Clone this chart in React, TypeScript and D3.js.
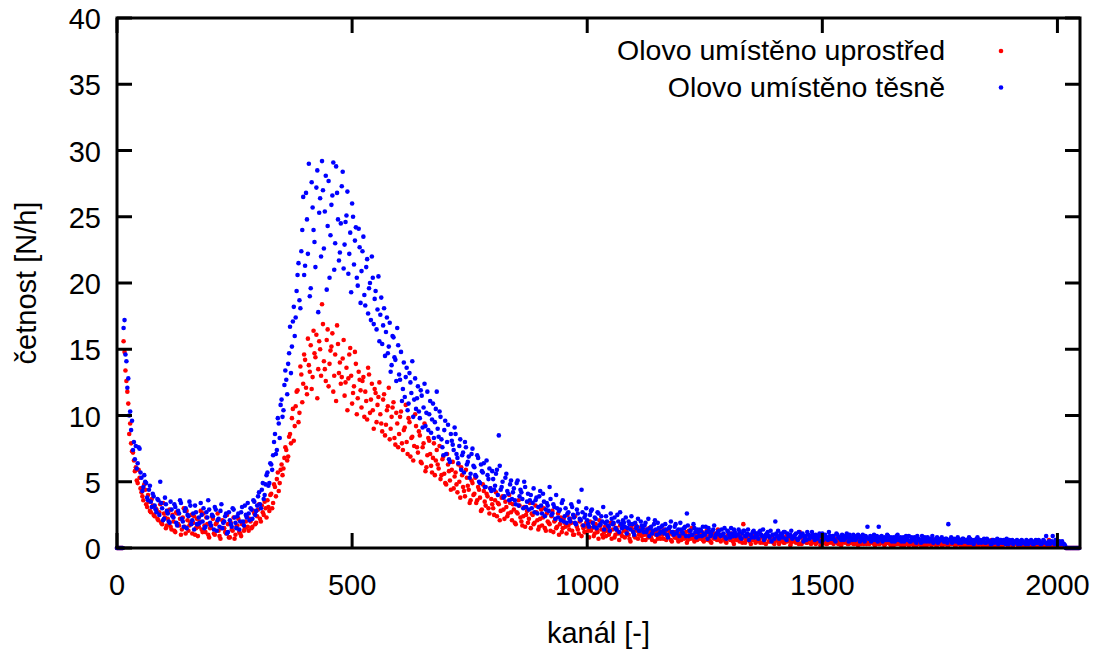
import React from "react";
import * as d3 from "d3";

// channel step between consecutive values (channel = index * STEP + offset)
const STEP = 4;
const OFFSET_A = 0;
const OFFSET_B = 2;

const seriesNames = ["Olovo umístěno uprostřed", "Olovo umístěno těsně"];
const seriesColors = ["#ff0000", "#0000ff"];

const xTicks = [0, 500, 1000, 1500, 2000];
const yTicks = [0, 5, 10, 15, 20, 25, 30, 35, 40];

// "uprostřed" – channels 0, 4, 8, ...
const redValuesA = [
  0, 0, 0, 0, 14.8, 12.6, 10.9, 9.4, 7.3, 6.6,
  6.1, 4.9, 5.3, 4.2, 3.6, 4.4, 3.1, 3.5, 2.7, 3.2,
  2.4, 2.9, 2.1, 3.3, 1.8, 2.6, 1.5, 2.2, 2.9, 1.4,
  2.0, 1.2, 2.6, 1.7, 1.0, 2.3, 1.6, 2.8, 1.3, 1.9,
  1.1, 2.4, 1.5, 0.9, 2.0, 1.4, 2.6, 1.2, 1.8, 0.8,
  1.6, 2.2, 1.0, 1.9, 1.3, 0.7, 2.1, 1.5, 1.1, 1.8,
  0.8, 1.4, 2.3, 1.0, 1.7, 1.2, 0.9, 1.9, 1.5, 2.4,
  1.3, 2.0, 1.6, 2.6, 1.9, 2.9, 2.2, 3.2, 2.5, 3.0,
  3.6, 2.8, 4.1, 3.4, 4.6, 5.2, 4.3, 5.9, 5.5, 6.8,
  7.4, 6.9, 8.6, 9.8, 8.1, 10.7, 11.9, 10.2, 13.1, 12.4,
  14.2, 11.6, 13.8, 15.3, 12.9, 14.7, 16.1, 13.5, 15.0, 18.4,
  14.1, 12.6, 16.5, 13.9, 15.2, 11.8, 14.6, 16.8, 13.2, 12.4,
  14.3, 11.5, 13.6, 12.8, 15.1, 10.9, 12.2, 13.9, 11.3, 12.7,
  10.6, 12.9, 11.8, 9.7, 13.1, 11.2, 10.4, 12.0, 9.5, 11.4,
  10.1, 8.8, 11.6, 9.3, 10.7, 8.2, 9.9, 11.0, 7.8, 9.4,
  8.6, 10.3, 7.4, 9.1, 8.0, 9.8, 6.9, 8.4, 7.7, 9.2,
  7.2, 8.5, 6.4, 7.9, 5.8, 7.0, 8.1, 6.2, 6.8, 5.5,
  7.4, 6.0, 5.2, 6.7, 5.6, 4.8, 6.3, 5.1, 5.9, 4.5,
  5.7, 4.2, 5.0, 6.1, 4.6, 3.9, 5.3, 4.4, 3.6, 4.9,
  4.1, 3.4, 4.6, 3.8, 2.9, 4.3, 3.2, 3.9, 2.6, 3.7,
  3.0, 3.6, 2.4, 3.3, 2.8, 3.9, 2.2, 3.1, 2.6, 3.4,
  2.1, 2.9, 1.8, 2.6, 3.2, 2.0, 2.4, 1.6, 2.8, 2.2,
  1.5, 2.5, 1.9, 2.7, 1.4, 2.2, 1.7, 3.0, 1.3, 2.0,
  1.8, 2.4, 1.2, 2.1, 1.6, 1.0, 2.3, 1.5, 1.9, 1.1,
  1.7, 2.2, 1.3, 1.0, 1.8, 1.4, 2.0, 0.9, 1.5, 1.2,
  1.6, 0.8, 1.3, 1.9, 1.1, 1.4, 0.7, 1.7, 1.0, 1.2,
  0.9, 1.5, 1.2, 0.7, 1.8, 1.0, 1.3, 0.6, 1.1, 1.6,
  0.8, 1.2, 1.0, 0.5, 1.4, 0.9, 1.7, 0.7, 1.1, 0.9,
  1.3, 0.6, 1.0, 1.5, 0.8, 1.1, 0.5, 1.2, 0.9, 0.7,
  1.0, 1.4, 0.6, 0.9, 1.1, 0.5, 1.2, 0.8, 0.7, 1.0,
  0.6, 1.1, 0.8, 0.4, 1.3, 0.7, 0.9, 0.5, 1.0, 0.8,
  0.7, 1.2, 0.5, 0.9, 0.6, 1.0, 0.4, 0.8, 1.1, 0.6,
  0.8, 0.5, 0.9, 0.7, 0.4, 1.0, 0.6, 0.8, 0.3, 0.7,
  0.9, 0.5, 0.6, 1.8, 0.4, 0.7, 0.8, 0.3, 0.6, 0.9,
  0.5, 0.7, 0.4, 0.8, 0.6, 0.3, 0.9, 0.5, 0.7, 0.4,
  0.6, 0.8, 0.3, 0.5, 0.7, 0.4, 0.9, 0.6, 0.2, 0.5,
  0.7, 0.4, 0.6, 1.2, 0.3, 0.5, 0.8, 0.4, 0.6, 0.3,
  0.5, 0.7, 0.4, 0.6, 0.2, 0.5, 0.8, 0.3, 0.6, 0.4,
  0.5, 0.3, 0.7, 0.4, 0.6, 0.2, 0.5, 0.4, 0.7, 0.3,
  0.4, 0.6, 0.3, 0.5, 0.2, 0.6, 0.4, 0.3, 0.5, 0.4,
  0.3, 0.5, 0.6, 0.2, 0.4, 0.3, 0.7, 0.4, 0.2, 0.5,
  0.4, 0.3, 0.5, 0.2, 0.4, 0.6, 0.3, 0.2, 0.5, 0.3,
  0.4, 0.2, 0.3, 0.5, 0.3, 0.2, 0.4, 0.6, 0.3, 0.2,
  0.4, 0.3, 0.5, 0.2, 0.3, 0.4, 0.2, 0.5, 0.3, 0.2,
  0.4, 0.3, 0.2, 0.4, 0.3, 0.5, 0.2, 0.3, 0.4, 0.2,
  0.3, 0.4, 0.2, 0.75, 0.5, 0.2, 0.3, 0.4, 0.2, 0.3,
  0.2, 0.4, 0.3, 0.2, 0.3, 0.6, 0.2, 0.3, 0.4, 0.2,
  0.3, 0.2, 0.4, 0.3, 0.2, 0.3, 0.2, 0.4, 0.3, 0.2,
  0.3, 0.4, 0.2, 0.3, 0.2, 0.5, 0.2, 0.3, 0.2, 0.3,
  0.2, 0.3, 0.4, 0.2, 0.3, 0.2, 0.3, 0.2, 0.4, 0.2,
  0.3, 0.2, 0.3, 0.2, 0.1, 0, 0, 0, 0, 0,
  0, 0,
];

// "uprostřed" – channels 2, 6, 10, ...
const redValuesB = [
  0, 0, 0, 15.6, 13.4, 11.8, 8.6, 7.9, 7.2, 5.8,
  5.1, 5.9, 4.5, 3.9, 4.8, 3.3, 4.0, 2.8, 3.7, 2.5,
  3.0, 2.2, 2.7, 1.9, 3.4, 2.3, 1.7, 2.8, 1.6, 2.5,
  1.3, 2.7, 1.8, 2.2, 1.4, 3.0, 1.1, 2.1, 1.7, 2.5,
  1.9, 1.0, 2.2, 1.6, 2.8, 1.2, 1.7, 2.3, 1.0, 1.5,
  2.4, 1.1, 1.8, 2.6, 0.9, 1.5, 2.0, 1.2, 2.5, 0.8,
  1.9, 1.3, 0.7, 1.6, 2.2, 1.1, 1.8, 1.3, 2.0, 1.6,
  2.2, 1.5, 2.8, 1.8, 2.4, 3.3, 2.0, 2.7, 3.5, 2.3,
  3.1, 4.0, 3.0, 4.8, 3.9, 5.7, 4.9, 6.3, 6.0, 7.6,
  6.6, 8.4, 7.9, 10.5, 9.2, 11.8, 9.5, 13.7, 11.0, 14.6,
  12.1, 15.8, 13.3, 12.0, 16.4, 14.4, 11.3, 15.6, 13.0, 16.9,
  13.5, 15.7, 12.2, 14.9, 16.2, 13.0, 11.1, 15.4, 14.0, 12.9,
  15.7, 12.5, 10.4, 14.6, 13.0, 11.7, 14.8, 10.1, 13.3, 11.9,
  12.6, 9.9, 11.1, 13.6, 10.2, 12.4, 9.0, 11.7, 10.8, 12.5,
  9.4, 11.2, 8.5, 10.4, 12.1, 9.0, 10.6, 8.3, 10.2, 7.6,
  9.9, 7.9, 8.9, 10.8, 7.1, 9.5, 8.3, 6.6, 10.1, 7.6,
  8.8, 6.5, 7.6, 9.4, 6.1, 8.3, 7.1, 5.7, 7.9, 6.6,
  6.3, 7.7, 5.5, 6.9, 4.9, 7.1, 5.8, 4.4, 6.5, 5.4,
  4.8, 6.3, 3.8, 5.5, 4.3, 5.9, 4.7, 3.4, 5.1, 4.0,
  5.3, 3.6, 4.4, 2.8, 4.8, 3.5, 4.1, 3.0, 4.5, 3.3,
  2.5, 4.2, 3.4, 2.1, 3.8, 2.9, 3.5, 2.4, 4.0, 2.7,
  3.3, 1.9, 2.7, 3.6, 2.3, 1.7, 3.1, 2.5, 1.9, 3.4,
  2.6, 1.8, 3.2, 2.1, 1.6, 2.9, 2.3, 1.5, 2.6, 1.9,
  1.3, 2.8, 2.0, 1.5, 2.6, 1.8, 1.2, 2.2, 1.6, 2.5,
  1.4, 1.9, 1.0, 2.4, 1.6, 1.1, 2.1, 1.7, 1.2, 1.9,
  1.3, 2.0, 1.5, 0.9, 1.8, 1.2, 2.1, 1.4, 0.8, 1.6,
  1.3, 1.0, 1.9, 1.4, 0.8, 1.5, 1.1, 1.7, 0.9, 1.3,
  1.5, 1.0, 0.7, 1.6, 1.2, 0.8, 1.3, 1.0, 1.5, 0.6,
  1.0, 1.4, 0.8, 1.2, 0.6, 1.3, 1.0, 0.7, 1.4, 1.1,
  0.7, 1.2, 0.9, 1.3, 0.6, 1.0, 0.8, 1.2, 0.5, 1.1,
  0.9, 0.7, 1.2, 0.6, 1.0, 1.5, 0.7, 1.1, 0.6, 0.9,
  1.0, 0.6, 0.8, 1.3, 0.7, 0.5, 1.1, 0.7, 0.9, 1.4,
  0.6, 1.0, 0.7, 0.5, 0.9, 0.8, 1.1, 0.5, 0.9, 0.6,
  0.7, 1.0, 0.4, 0.8, 0.6, 1.0, 0.5, 0.9, 0.7, 0.4,
  0.8, 0.6, 1.0, 0.4, 0.7, 0.9, 0.5, 0.6, 0.8, 0.3,
  0.7, 0.5, 0.9, 0.6, 0.4, 0.8, 0.5, 0.7, 0.4, 0.8,
  0.5, 0.6, 0.3, 0.8, 0.5, 0.7, 0.4, 0.6, 0.9, 0.4,
  0.6, 0.3, 0.7, 0.5, 0.8, 0.4, 0.5, 0.3, 0.7, 0.5,
  0.4, 0.6, 0.5, 0.3, 0.7, 0.4, 0.6, 0.5, 0.3, 0.6,
  0.5, 0.3, 0.6, 0.4, 0.7, 0.3, 0.5, 0.6, 0.3, 0.4,
  0.6, 0.4, 0.3, 0.5, 0.7, 0.3, 0.4, 0.6, 0.3, 0.4,
  0.5, 0.2, 0.4, 0.6, 0.3, 0.4, 0.5, 0.3, 0.2, 0.4,
  0.3, 0.5, 0.4, 0.2, 0.5, 0.4, 0.3, 0.2, 0.5, 0.4,
  0.2, 0.5, 0.3, 0.4, 0.6, 0.2, 0.4, 0.3, 0.2, 0.5,
  0.3, 0.2, 0.4, 0.3, 0.5, 0.2, 0.4, 0.3, 0.2, 0.4,
  0.2, 0.3, 0.4, 0.2, 0.3, 0.5, 0.2, 0.3, 0.6, 0.3,
  0.4, 0.2, 0.3, 0.5, 0.2, 0.3, 0.4, 0.2, 0.3, 0.5,
  0.2, 0.4, 0.3, 0.2, 0.4, 0.3, 0.2, 0.3, 0.4, 0.2,
  0.2, 0.3, 0.4, 0.2, 0.3, 0.2, 0.4, 0.3, 0.2, 0.3,
  0.4, 0.2, 0.3, 0.2, 0.3, 0.6, 0.2, 0.3, 0.2, 0.4,
  0.2, 0.3, 0.2, 0.2, 0, 0, 0, 0, 0, 0,
  0, 0,
];

// "těsně" – channels 0, 4, 8, ...
const blueValuesA = [
  0, 0, 0, 0, 17.2, 14.1, 12.8, 10.3, 9.6, 8.0,
  7.7, 6.4, 7.5, 5.3, 4.6, 5.0, 3.8, 4.4, 3.5, 4.1,
  3.2, 2.7, 3.6, 5.0, 3.0, 2.2, 3.3, 2.6, 1.9, 2.9,
  2.3, 3.1, 1.7, 2.6, 3.4, 2.0, 2.8, 1.5, 2.4, 3.2,
  2.1, 1.4, 2.7, 1.8, 1.9, 2.5, 3.0, 1.6, 2.3, 2.9,
  1.7, 2.4, 3.1, 1.3, 2.2, 2.8, 1.5, 2.0, 2.6, 1.2,
  2.1, 1.6, 2.9, 1.9, 2.4, 1.4, 2.7, 2.0, 3.2, 2.3,
  2.6, 3.0, 2.2, 3.5, 2.8, 3.9, 3.3, 4.4, 3.7, 4.8,
  5.7, 4.9, 6.3, 7.0, 8.6, 7.4, 9.4, 10.8, 9.9, 12.3,
  12.7, 13.9, 16.7, 15.2, 18.2, 17.4, 20.6, 18.7, 22.4, 26.5,
  21.3, 24.8, 29.0, 19.6, 25.7, 23.1, 27.2, 17.8, 26.4, 29.2,
  22.6, 28.1, 24.3, 20.4, 25.9, 29.1, 23.0, 26.8, 21.7, 24.5,
  28.4, 22.9, 25.1, 20.7, 23.8, 26.0, 21.4, 24.2, 19.8, 22.7,
  20.9, 23.5, 18.3, 21.8, 19.6, 17.2, 20.4, 18.8, 16.5, 20.5,
  17.6, 15.4, 18.1, 16.3, 14.7, 17.0, 13.8, 15.9, 14.2, 16.6,
  13.1, 14.8, 12.0, 11.4, 13.6, 10.9, 12.5, 14.1, 11.2, 10.5,
  12.2, 9.8, 11.5, 10.6, 9.2, 11.8, 10.1, 8.7, 10.9, 9.5,
  11.8, 8.4, 9.9, 7.6, 8.9, 7.1, 9.3, 6.5, 8.1, 7.4,
  8.6, 6.8, 7.7, 5.9, 7.2, 8.0, 6.3, 6.9, 5.6, 7.5,
  6.1, 5.4, 6.8, 4.9, 5.8, 6.4, 4.6, 5.5, 6.0, 4.3,
  5.2, 4.7, 5.9, 8.5, 4.4, 5.0, 3.9, 5.6, 4.1, 4.8,
  3.7, 4.5, 3.3, 5.1, 3.9, 4.2, 3.0, 4.6, 3.5, 2.9,
  4.0, 3.4, 2.7, 3.8, 3.1, 4.3, 2.6, 3.5, 2.9, 3.2,
  4.6, 2.5, 3.3, 2.2, 3.0, 2.8, 2.1, 3.6, 2.4, 1.9,
  2.7, 2.0, 3.1, 2.3, 1.8, 2.6, 2.2, 4.4, 1.7, 2.5,
  2.1, 1.6, 2.8, 1.9, 2.3, 1.5, 2.6, 1.8, 2.0, 1.4,
  2.4, 1.7, 1.3, 2.2, 1.9, 1.5, 2.5, 1.2, 1.8, 2.1,
  1.6, 1.1, 2.0, 1.4, 1.8, 1.0, 1.5, 2.2, 1.3, 1.7,
  1.2, 1.9, 1.4, 0.9, 1.6, 1.3, 2.1, 1.0, 1.5, 1.2,
  1.7, 1.1, 1.4, 0.8, 1.6, 1.2, 1.0, 1.8, 1.3, 0.9,
  1.4, 1.1, 1.6, 2.6, 0.9, 1.3, 1.0, 1.5, 0.8, 1.2,
  1.4, 0.9, 1.1, 1.6, 0.7, 1.2, 1.0, 1.4, 0.8, 1.1,
  1.3, 0.9, 1.0, 1.5, 0.7, 1.2, 0.8, 1.1, 1.4, 0.9,
  1.0, 1.2, 0.7, 1.3, 0.9, 1.1, 0.6, 1.0, 1.2, 0.8,
  1.1, 0.7, 1.3, 0.9, 0.6, 1.0, 1.2, 0.8, 0.5, 1.0,
  2.0, 0.9, 0.7, 1.1, 0.8, 1.2, 0.6, 0.9, 1.0, 0.7,
  0.9, 1.1, 0.6, 0.8, 1.0, 0.5, 0.9, 1.2, 0.7, 0.8,
  1.0, 0.6, 0.8, 0.9, 0.5, 1.1, 0.7, 0.8, 0.6, 0.9,
  0.7, 0.9, 0.5, 1.0, 0.8, 0.6, 0.9, 0.7, 1.1, 0.5,
  0.8, 0.6, 0.9, 0.7, 1.0, 0.5, 0.8, 0.6, 0.9, 1.6,
  0.7, 0.5, 0.8, 0.6, 0.9, 1.6, 0.7, 0.5, 0.8, 0.6,
  0.9, 0.7, 0.5, 0.8, 0.6, 1.0, 0.7, 0.5, 0.8, 0.6,
  0.7, 0.9, 0.5, 0.6, 0.8, 0.4, 0.7, 0.6, 0.9, 0.5,
  0.6, 0.8, 0.5, 0.7, 0.4, 0.6, 0.8, 0.5, 0.7, 0.6,
  0.5, 0.7, 1.8, 0.6, 0.4, 0.7, 0.5, 0.8, 0.6, 0.4,
  0.7, 0.5, 0.6, 0.8, 0.4, 0.6, 0.5, 0.7, 0.4, 0.6,
  0.5, 0.7, 0.4, 0.6, 0.5, 0.3, 0.6, 0.5, 0.7, 0.4,
  0.6, 0.4, 0.5, 0.7, 0.3, 0.5, 0.6, 0.4, 0.5, 0.3,
  0.5, 0.6, 0.4, 0.3, 0.5, 0.4, 0.6, 0.3, 0.5, 0.4,
  0.6, 0.3, 0.4, 0.5, 0.9, 0.4, 0.3, 0.5, 0.4, 0.6,
  0.3, 0.5, 0.4, 0.3, 0.2, 0, 0, 0, 0, 0,
  0, 0,
];

// "těsně" – channels 2, 6, 10, ...
const blueValuesB = [
  0, 0, 0, 16.6, 14.6, 12.1, 10.0, 8.9, 7.4, 6.7,
  6.0, 7.6, 5.7, 4.3, 5.5, 4.9, 3.6, 4.7, 3.1, 3.9,
  2.9, 3.7, 2.5, 3.4, 2.1, 3.8, 2.8, 2.0, 3.5, 2.4,
  3.3, 1.9, 2.8, 3.6, 2.2, 1.6, 3.0, 2.5, 3.5, 1.8,
  2.6, 3.2, 1.8, 2.3, 3.4, 2.0, 1.5, 2.7, 3.6, 1.9,
  2.5, 1.4, 2.9, 2.1, 1.6, 3.3, 1.9, 2.4, 1.1, 2.7,
  1.8, 3.0, 2.3, 1.5, 2.6, 2.0, 3.1, 1.7, 2.5, 3.4,
  2.1, 2.9, 3.6, 2.5, 3.2, 4.2, 3.0, 4.9, 4.0, 5.5,
  4.7, 6.4, 5.9, 8.0, 7.1, 9.8, 8.3, 11.2, 10.4, 13.4,
  11.6, 14.7, 13.2, 17.1, 16.0, 19.4, 21.5, 18.1, 24.0, 20.6,
  26.8, 22.2, 19.0, 27.6, 24.0, 21.2, 28.5, 25.3, 22.0, 27.0,
  25.4, 19.5, 27.7, 23.6, 26.6, 21.0, 28.8, 24.8, 22.3, 27.3,
  21.1, 24.6, 26.9, 22.2, 19.3, 25.0, 23.2, 20.4, 24.1, 18.5,
  22.4, 19.1, 21.2, 17.7, 20.0, 22.0, 16.9, 19.4, 18.0, 15.6,
  18.9, 16.8, 14.5, 17.4, 15.2, 13.3, 16.0, 14.4, 12.6, 15.3,
  12.7, 11.1, 14.0, 12.9, 10.4, 13.2, 11.7, 9.9, 12.8, 11.3,
  10.3, 11.9, 9.1, 12.4, 10.2, 8.9, 11.1, 9.7, 8.3, 10.5,
  9.0, 10.3, 8.2, 7.0, 9.6, 8.0, 6.7, 8.6, 7.8, 9.1,
  7.1, 6.4, 8.2, 7.0, 5.7, 7.6, 6.5, 5.3, 7.1, 6.2,
  5.5, 7.0, 5.0, 6.3, 5.7, 4.6, 6.6, 5.2, 4.5, 5.8,
  4.4, 5.6, 4.0, 6.2, 4.6, 3.8, 5.3, 4.3, 3.6, 5.1,
  4.2, 3.6, 4.9, 3.2, 4.4, 3.7, 5.0, 3.1, 4.1, 3.6,
  3.0, 4.5, 3.6, 2.6, 3.9, 3.2, 4.1, 2.4, 3.4, 2.8,
  3.7, 2.6, 3.1, 4.0, 2.3, 2.9, 3.4, 2.0, 3.0, 2.6,
  2.2, 3.3, 2.5, 1.9, 2.9, 3.5, 2.1, 2.7, 2.3, 3.0,
  1.8, 2.5, 2.9, 1.6, 2.2, 2.7, 1.7, 2.4, 3.1, 1.9,
  2.0, 1.6, 2.6, 1.8, 2.3, 1.4, 2.0, 2.7, 1.5, 1.9,
  2.3, 1.5, 1.8, 2.4, 1.2, 1.9, 1.6, 1.3, 2.0, 1.5,
  1.7, 1.2, 2.2, 1.5, 1.1, 1.8, 1.4, 1.9, 1.1, 1.6,
  1.3, 1.8, 1.0, 1.5, 2.0, 1.2, 1.6, 1.1, 1.4, 1.9,
  1.2, 1.5, 0.9, 1.7, 1.3, 1.0, 1.8, 1.2, 1.4, 0.9,
  1.3, 1.6, 1.0, 1.2, 1.5, 0.9, 1.3, 1.7, 1.0, 1.2,
  1.0, 1.4, 1.1, 0.8, 1.3, 1.0, 1.5, 0.9, 1.2, 1.0,
  1.4, 0.8, 1.1, 1.3, 0.9, 1.4, 1.0, 0.8, 1.3, 1.1,
  0.9, 1.2, 1.0, 1.4, 0.8, 1.1, 0.9, 1.3, 1.0, 0.7,
  1.1, 1.3, 0.8, 1.0, 1.2, 0.7, 1.1, 0.9, 1.3, 0.8,
  1.0, 0.7, 1.2, 0.9, 1.1, 0.8, 0.6, 1.0, 0.9, 1.2,
  0.8, 1.0, 0.7, 1.1, 0.9, 0.6, 1.0, 0.8, 1.2, 0.7,
  0.9, 0.6, 1.1, 0.8, 0.7, 1.0, 0.6, 0.9, 0.8, 1.0,
  0.7, 1.0, 0.6, 0.8, 0.9, 0.7, 1.0, 0.5, 0.8, 0.7,
  0.9, 0.6, 1.0, 0.7, 0.5, 0.8, 0.9, 0.6, 0.7, 1.0,
  0.6, 0.8, 0.7, 0.5, 0.9, 0.6, 0.8, 0.7, 0.5, 0.9,
  0.6, 0.5, 0.8, 0.7, 0.5, 0.9, 0.6, 0.4, 0.7, 0.8,
  0.5, 0.7, 0.6, 0.9, 0.5, 0.7, 0.4, 0.6, 0.8, 0.5,
  0.7, 0.4, 0.6, 0.8, 0.5, 0.6, 0.7, 0.4, 0.5, 0.7,
  0.5, 0.6, 0.4, 0.7, 0.5, 0.3, 0.6, 0.8, 0.5, 0.4,
  0.6, 0.4, 0.7, 0.5, 0.3, 0.6, 0.4, 0.5, 0.3, 0.6,
  0.4, 0.6, 0.3, 0.5, 0.6, 0.4, 0.3, 0.5, 0.6, 0.4,
  0.3, 0.5, 0.4, 0.6, 0.3, 0.5, 0.4, 0.3, 0.6, 0.4,
  0.5, 0.3, 0.6, 0.4, 0.3, 0.5, 0.4, 0.9, 0.3, 0.5,
  0.4, 0.3, 0.5, 0.3, 0, 0, 0, 0, 0, 0,
  0, 0,
];

// drawing order: red first, blue on top
const layers = [
  { values: redValuesA, offset: OFFSET_A, series: 0 },
  { values: redValuesB, offset: OFFSET_B, series: 0 },
  { values: blueValuesA, offset: OFFSET_A, series: 1 },
  { values: blueValuesB, offset: OFFSET_B, series: 1 },
];

const W = 1102;
const H = 657;
const plot = { left: 117, right: 1080, top: 18, bottom: 548 };
const FONT = "Tahoma, 'Liberation Sans', Arial, sans-serif";

export default function App() {
  const x = d3.scaleLinear().domain([0, 2048]).range([plot.left, plot.right]);
  const y = d3.scaleLinear().domain([0, 40]).range([plot.bottom, plot.top]);
  const tickLen = 15;
  const r = 2.3;

  return (
    <div style={{ position: "absolute", left: 0, top: 0 }}>
      <svg width={W} height={H} style={{ display: "block", background: "#fff" }}>
        {/* points */}
        {layers.map((layer, li) => (
          <g key={li} fill={seriesColors[layer.series]}>
            {layer.values.map((v, i) => (
              <circle key={i} cx={x(i * STEP + layer.offset)} cy={y(v)} r={r} />
            ))}
          </g>
        ))}

        {/* ticks */}
        <g stroke="#000" strokeWidth={3}>
          {xTicks.map((t) => (
            <g key={"xt" + t}>
              <line x1={x(t)} x2={x(t)} y1={plot.bottom} y2={plot.bottom - tickLen} />
              <line x1={x(t)} x2={x(t)} y1={plot.top} y2={plot.top + tickLen} />
            </g>
          ))}
          {yTicks.map((t) => (
            <g key={"yt" + t}>
              <line x1={plot.left} x2={plot.left + tickLen} y1={y(t)} y2={y(t)} />
              <line x1={plot.right} x2={plot.right - tickLen} y1={y(t)} y2={y(t)} />
            </g>
          ))}
        </g>

        {/* border */}
        <rect
          x={plot.left}
          y={plot.top}
          width={plot.right - plot.left}
          height={plot.bottom - plot.top}
          fill="none"
          stroke="#000"
          strokeWidth={3}
        />

        {/* tick labels */}
        <g fontFamily={FONT} fontSize={29} fill="#000">
          {xTicks.map((t) => (
            <text key={"xl" + t} x={x(t)} y={595} textAnchor="middle">
              {t}
            </text>
          ))}
          {yTicks.map((t) => (
            <text key={"yl" + t} x={101} y={y(t) + 11} textAnchor="end">
              {t}
            </text>
          ))}
        </g>

        {/* axis titles */}
        <text
          x={(plot.left + plot.right) / 2}
          y={643}
          textAnchor="middle"
          fontFamily={FONT}
          fontSize={29}
        >
          kanál [-]
        </text>
        <text
          transform={`translate(36, ${(plot.top + plot.bottom) / 2}) rotate(-90)`}
          textAnchor="middle"
          fontFamily={FONT}
          fontSize={29}
        >
          četnost [N/h]
        </text>

        {/* legend */}
        <g fontFamily={FONT} fontSize={28.5}>
          {seriesNames.map((name, si) => (
            <g key={name}>
              <text x={945} y={60 + si * 36.5} textAnchor="end">
                {name}
              </text>
              <circle cx={1001} cy={51 + si * 36.5} r={r} fill={seriesColors[si]} />
            </g>
          ))}
        </g>
      </svg>
    </div>
  );
}
